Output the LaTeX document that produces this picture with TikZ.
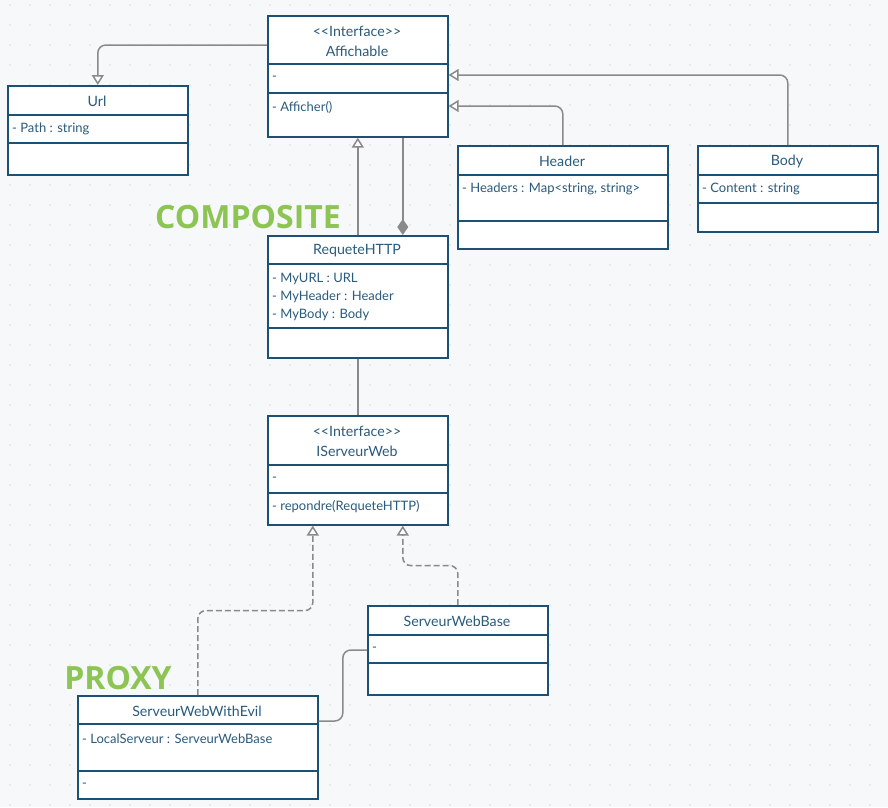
\documentclass[tikz,border=0pt]{standalone}
\usepackage{fontspec}
\setmainfont{Lato}
\newfontfamily\greenfont{Open Sans}
\usetikzlibrary{arrows.meta,calc}
\definecolor{bgc}{HTML}{F7F8FA}
\definecolor{dotc}{HTML}{D9DCE1}
\definecolor{boxc}{HTML}{1D5174}
\definecolor{txtc}{HTML}{2A5A7C}
\definecolor{connc}{HTML}{8A8A8A}
\definecolor{grn}{RGB}{141,197,84}
\tikzset{
  cls/.style={draw=boxc, fill=white, line width=1.6pt, rectangle, inner sep=0pt, anchor=north west},
  sepline/.style={draw=boxc, line width=1.6pt},
  ttl/.style={text=txtc, font=\fontsize{14.2}{16}\selectfont, inner sep=0pt},
  attr/.style={text=txtc, font=\fontsize{13}{15}\selectfont, inner sep=0pt, anchor=west},
  conn/.style={draw=connc, line width=1.5pt, rounded corners=8pt},
  dsh/.style={dash pattern=on 6pt off 3pt},
  opentri/.style={-{Triangle[open, width=12pt, length=10pt, fill=white]}},
  comp/.style={{Diamond[width=11pt, length=16pt]}-},
  lbl/.style={text=grn, font=\greenfont\bfseries\fontsize{32}{34}\selectfont, inner sep=0pt}
}
\newcommand{\stereo}{<{}<Interface>{}>}
\begin{document}
\begin{tikzpicture}[x=1pt,y=-1pt]
\useasboundingbox (0,0) rectangle (888,807);
\fill[bgc] (0,0) rectangle (888,807);
\foreach \i in {0,...,44}{\foreach \j in {0,...,40}{\fill[dotc] (10+20*\i,5+20*\j) circle (0.9pt);}}

% Affichable
\node[cls, minimum width=180pt, minimum height=121pt] (aff) at (267,15) {};
\draw[sepline] (267,64) -- (447,64);
\draw[sepline] (267,93) -- (447,93);
\node[ttl] (affs) at (357,31) {\stereo};
\node[ttl] (afft) at (357,51) {Affichable};
\node[attr] (affa) at (272,78) {-};
\node[attr] (affm) at (272,107) {- Afficher()};

% Url
\node[cls, minimum width=180pt, minimum height=89pt] (url) at (7,85) {};
\draw[sepline] (7,115) -- (187,115);
\draw[sepline] (7,143) -- (187,143);
\node[ttl] (urlt) at (97,101) {Url};
\node[attr] (urla) at (12,129) {- Path : string};

% Header
\node[cls, minimum width=210pt, minimum height=103pt] (hdr) at (457,145) {};
\draw[sepline] (457,175) -- (667,175);
\draw[sepline] (457,221) -- (667,221);
\node[ttl] (hdrt) at (562,161) {Header};
\node[attr] (hdra) at (462,189) {- Headers : Map<string, string>};

% Body
\node[cls, minimum width=180pt, minimum height=86pt] (body) at (697,145) {};
\draw[sepline] (697,175) -- (877,175);
\draw[sepline] (697,203) -- (877,203);
\node[ttl] (bodyt) at (787,161) {Body};
\node[attr] (bodya) at (702,189) {- Content : string};

% RequeteHTTP
\node[cls, minimum width=180pt, minimum height=122pt] (req) at (267,235) {};
\draw[sepline] (267,264) -- (447,264);
\draw[sepline] (267,328) -- (447,328);
\node[ttl] (reqt) at (357,251) {RequeteHTTP};
\node[attr] (reqa) at (272,279) {- MyURL : URL};
\node[attr] (reqb) at (272,297) {- MyHeader : Header};
\node[attr] (reqc) at (272,315) {- MyBody : Body};

% IServeurWeb
\node[cls, minimum width=180pt, minimum height=109pt] (isw) at (267,415) {};
\draw[sepline] (267,465) -- (447,465);
\draw[sepline] (267,493) -- (447,493);
\node[ttl] (isws) at (357,431) {\stereo};
\node[ttl] (iswt) at (357,451) {IServeurWeb};
\node[attr] (iswa) at (272,479) {-};
\node[attr] (iswm) at (272,507) {- repondre(RequeteHTTP)};

% ServeurWebBase
\node[cls, minimum width=180pt, minimum height=89pt] (base) at (367,605) {};
\draw[sepline] (367,635) -- (547,635);
\draw[sepline] (367,663) -- (547,663);
\node[ttl] (baset) at (457,621) {ServeurWebBase};
\node[attr] (basea) at (372,649) {-};

% ServeurWebWithEvil
\node[cls, minimum width=240pt, minimum height=103pt] (evil) at (77,695) {};
\draw[sepline] (77,724) -- (317,724);
\draw[sepline] (77,771) -- (317,771);
\node[ttl] (evilt) at (197,711) {ServeurWebWithEvil};
\node[attr] (evila) at (82,739) {- LocalServeur : ServeurWebBase};
\node[attr] (evilm) at (82,785) {-};

% labels
\node[lbl] (composite) at (248,217) {COMPOSITE};
\node[lbl] (proxy) at (118,678) {PROXY};

% connectors
\draw[conn, opentri] ($(aff.north west)+(0,30)$) -| (url.north);
\draw[conn, opentri] (hdr.north) |- ($(aff.north east)+(0,91)$);
\draw[conn, opentri] (body.north) |- ($(aff.north east)+(0,60)$);
\draw[conn, opentri] (req.north) -- (aff.south);
\draw[conn, comp] ($(req.north)+(45,0)$) -- ($(aff.south)+(45,0)$);
\draw[conn] (req.south) -- (isw.north);
\draw[conn, dsh, opentri] (evil.north) |- ($(isw.south)+(-45,85)$) -- ($(isw.south)+(-45,0)$);
\draw[conn, dsh, opentri] (base.north) |- ($(isw.south)+(45,40)$) -- ($(isw.south)+(45,0)$);
\coordinate (evilp) at ($(evil.north east)+(0,26)$);
\coordinate (basep) at ($(base.north west)+(0,45)$);
\draw[conn] (evilp) -| ($(evilp)!0.5!(basep)$) |- (basep);
\end{tikzpicture}
\end{document}
